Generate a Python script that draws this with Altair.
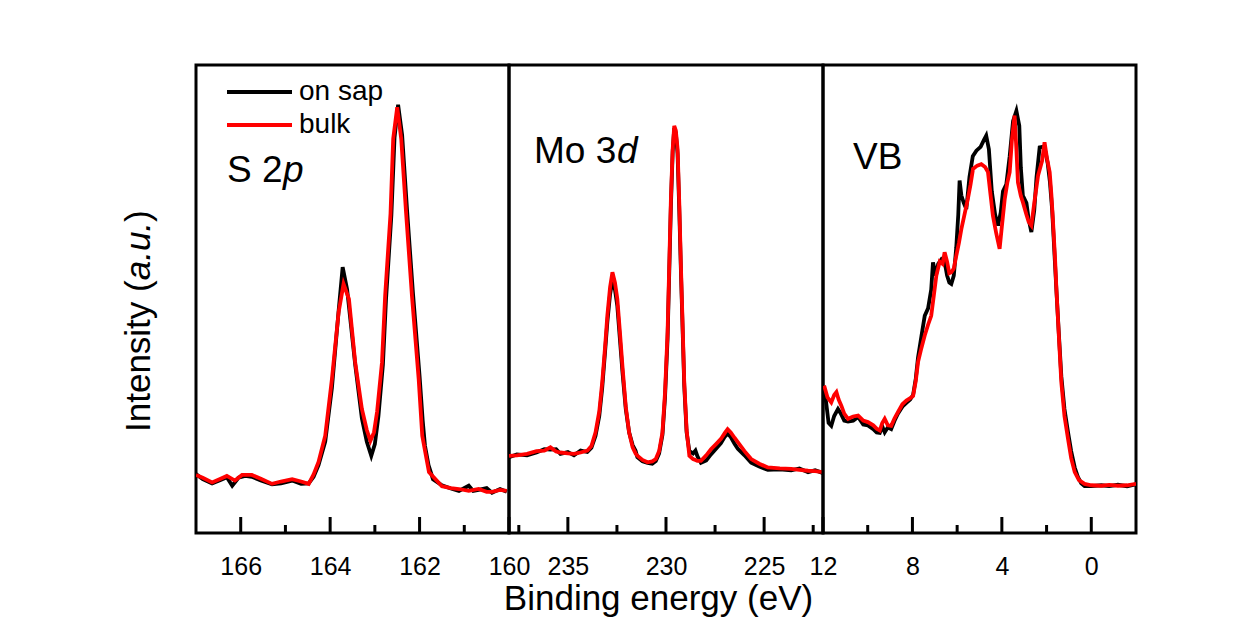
import altair as alt
import pandas as pd

FONT = "Liberation Sans"
H = 468
SAMPLES = ["on sap", "bulk"]
COLORS = ["#000000", "#ff0000"]

# ---------------- S 2p ----------------
s2p_e_bulk = [167.0, 166.85, 166.64, 166.45, 166.31, 166.13, 165.97, 165.75, 165.55, 165.30,
              165.10, 164.85, 164.65, 164.48, 164.37, 164.26, 164.11, 163.96, 163.81, 163.70,
              163.58, 163.44, 163.29, 163.18, 163.10, 163.02, 162.95, 162.84, 162.77, 162.65,
              162.59, 162.50, 162.41, 162.30, 162.17, 162.02, 161.94, 161.79, 161.50, 161.30,
              161.12, 160.90, 160.68, 160.50, 160.38, 160.20, 160.05]
s2p_i_bulk = [12.4, 11.8, 10.8, 11.6, 12.2, 11.2, 12.4, 12.4, 11.6, 10.5,
              11.0, 11.5, 11.0, 10.5, 12.5, 15.2, 20.8, 32.9, 47.2, 53.2,
              50.0, 36.5, 26.5, 22.0, 19.7, 21.5, 25.9, 36.5, 50.7, 68.2,
              84.2, 91.0, 84.2, 68.2, 50.6, 32.9, 20.8, 13.0, 10.0, 9.6,
              9.4, 9.0, 9.4, 8.8, 8.8, 9.2, 9.0]
s2p_e_sap = [167.0, 166.85, 166.64, 166.45, 166.31, 166.19, 166.05, 165.90, 165.75, 165.55,
             165.30, 165.10, 164.85, 164.65, 164.48, 164.37, 164.26, 164.11, 163.96, 163.81,
             163.72, 163.62, 163.44, 163.29, 163.18, 163.08, 163.00, 162.92, 162.82, 162.75,
             162.63, 162.56, 162.48, 162.39, 162.28, 162.15, 162.00, 161.93, 161.88, 161.80,
             161.70, 161.50, 161.30, 161.12, 160.90, 160.80, 160.68, 160.50, 160.38, 160.20,
             160.05]
s2p_i_sap = [12.6, 11.5, 10.6, 11.3, 11.9, 10.1, 11.8, 12.2, 12.0, 11.2,
             10.4, 10.6, 11.2, 10.5, 10.6, 12.0, 14.5, 19.5, 31.0, 47.5,
             56.8, 52.0, 36.0, 24.5, 19.5, 16.5, 19.0, 25.0, 36.0, 50.0,
             68.0, 84.5, 91.5, 85.0, 69.0, 51.5, 33.5, 24.0, 18.7, 14.5,
             11.5, 10.2, 9.5, 9.0, 10.1, 9.0, 9.2, 9.6, 8.6, 9.4,
             8.8]

# ---------------- Mo 3d ----------------
mo_e = [238.0, 237.6, 237.08, 236.6, 236.2, 235.89, 235.6, 235.38, 235.0, 234.69,
        234.35, 234.01, 233.8, 233.59, 233.40, 233.25, 233.10, 232.99, 232.85, 232.73,
        232.60, 232.48, 232.35, 232.22, 232.05, 231.88, 231.70, 231.55, 231.46, 231.20,
        230.94, 230.70, 230.52, 230.35, 230.18, 230.05, 229.92, 229.83, 229.75, 229.66,
        229.58, 229.50, 229.41, 229.32, 229.24, 229.15, 229.07, 228.95, 228.81, 228.62,
        228.50, 228.40, 228.22, 227.95, 227.71, 227.45, 227.20, 227.00, 226.86, 226.70,
        226.50, 226.34, 226.00, 225.66, 225.25, 224.81, 224.20, 223.62, 223.20, 222.76,
        222.40, 222.0]
mo_i_bulk = [16.5, 16.6, 16.9, 17.5, 17.6, 18.3, 17.4, 17.2, 17.0, 16.9,
             17.2, 17.6, 18.6, 21.5, 26.0, 32.2, 40.0, 46.4, 52.5, 55.7,
             53.5, 50.0, 43.0, 35.7, 27.0, 21.5, 18.3, 17.0, 16.5, 15.6,
             15.1, 15.3, 15.8, 17.5, 21.5, 30.0, 42.9, 58.0, 71.4, 82.0,
             87.0, 86.0, 82.1, 70.0, 57.1, 44.0, 32.2, 22.0, 16.5, 15.8,
             15.6, 15.4, 15.4, 16.6, 17.9, 19.0, 20.1, 21.4, 22.2, 21.5,
             20.3, 19.4, 17.5, 15.8, 14.8, 14.0, 13.8, 13.7, 13.5, 13.3,
             13.2, 13.0]
mo_i_sap = [16.2, 16.8, 16.6, 17.2, 17.9, 17.8, 17.9, 16.9, 17.3, 16.6,
            17.6, 17.3, 18.2, 20.8, 25.0, 31.0, 39.0, 45.0, 51.0, 54.0,
            52.0, 48.5, 41.5, 34.5, 26.5, 21.5, 18.8, 17.6, 16.2, 15.3,
            15.0, 14.8, 15.4, 17.0, 21.0, 29.0, 41.5, 56.5, 70.0, 81.5,
            86.5, 85.5, 81.0, 68.5, 56.0, 43.0, 31.5, 21.5, 17.5, 17.0,
            17.6, 16.4, 15.0, 15.5, 16.8, 18.0, 19.2, 20.6, 21.2, 20.5,
            19.0, 18.0, 16.6, 15.0, 14.2, 13.5, 13.6, 13.4, 13.8, 13.0,
            13.4, 12.8]

# ---------------- VB ----------------
vb_e_bulk = [11.95, 11.80, 11.63, 11.50, 11.40, 11.30, 11.18, 11.05, 10.88, 10.65,
             10.43, 10.20, 9.99, 9.75, 9.60, 9.46, 9.35, 9.24, 9.10, 8.95,
             8.80, 8.65, 8.45, 8.27, 8.10, 7.97, 7.85, 7.75, 7.60, 7.45,
             7.30, 7.16, 7.05, 6.93, 6.78, 6.65, 6.56, 6.45, 6.35, 6.26,
             6.15, 6.04, 5.92, 5.81, 5.65, 5.52, 5.40, 5.29, 5.10, 4.92,
             4.75, 4.62, 4.50, 4.40, 4.25, 4.10, 4.00, 3.87, 3.75, 3.65,
             3.55, 3.43, 3.35, 3.28, 3.15, 3.06, 2.90, 2.80, 2.68, 2.55,
             2.38, 2.20, 2.09, 1.98, 1.86, 1.78, 1.71, 1.62, 1.56, 1.45,
             1.34, 1.20, 1.04, 0.90, 0.74, 0.55, 0.30, 0.00, -0.45, -0.80,
             -1.19, -1.60, -2.0]
vb_i_bulk = [31.5, 29.0, 27.9, 29.5, 30.1, 28.5, 27.2, 25.5, 24.4, 24.9,
             25.1, 24.0, 23.7, 23.0, 22.3, 21.9, 23.5, 24.4, 23.0, 22.9,
             24.5, 25.8, 27.5, 28.3, 28.8, 29.3, 32.5, 36.5, 39.5, 42.2,
             44.5, 46.4, 50.5, 55.0, 58.0, 57.5, 60.0, 58.0, 55.5, 55.7,
             56.5, 59.2, 62.0, 65.0, 68.5, 71.4, 74.5, 77.8, 78.5, 78.8,
             78.2, 77.1, 72.0, 67.8, 64.0, 60.7, 65.5, 71.4, 75.0, 77.1,
             84.0, 89.2, 82.0, 74.9, 72.0, 70.7, 68.0, 66.5, 65.7, 70.5,
             76.4, 79.5, 83.5, 80.0, 77.1, 72.0, 66.4, 58.5, 52.1, 42.0,
             32.2, 25.0, 20.1, 16.0, 13.0, 11.3, 10.5, 10.2, 10.1, 10.3,
             10.1, 10.2, 10.5]
vb_e_sap = [11.95, 11.85, 11.75, 11.63, 11.50, 11.33, 11.20, 11.05, 10.88, 10.65,
            10.43, 10.20, 9.99, 9.75, 9.60, 9.46, 9.35, 9.24, 9.10, 8.95,
            8.80, 8.65, 8.45, 8.27, 8.10, 7.97, 7.85, 7.75, 7.60, 7.45,
            7.30, 7.16, 7.08, 6.95, 6.85, 6.70, 6.56, 6.45, 6.35, 6.26,
            6.15, 6.04, 5.95, 5.89, 5.81, 5.70, 5.59, 5.45, 5.30, 5.14,
            4.95, 4.80, 4.70, 4.58, 4.45, 4.30, 4.17, 4.05, 3.95, 3.80,
            3.65, 3.50, 3.35, 3.22, 3.15, 3.06, 2.90, 2.80, 2.68, 2.55,
            2.45, 2.31, 2.18, 2.05, 1.95, 1.85, 1.75, 1.65, 1.55, 1.45,
            1.34, 1.20, 1.04, 0.90, 0.74, 0.60, 0.45, 0.30, 0.00, -0.45,
            -0.80, -1.19, -1.60, -2.0]
vb_i_sap = [31.0, 27.5, 23.5, 22.9, 25.0, 26.5, 25.5, 24.0, 23.8, 24.0,
            24.8, 23.2, 23.0, 22.2, 21.5, 21.4, 22.8, 21.5, 22.6, 22.2,
            24.0, 25.5, 27.0, 27.8, 28.5, 29.5, 33.0, 37.5, 42.0, 46.4,
            48.0, 52.0, 57.8, 55.0, 57.5, 58.5, 58.0, 55.0, 53.5, 53.2,
            55.0, 61.0, 68.0, 75.3, 72.1, 70.5, 69.2, 76.0, 80.5, 81.7,
            82.5, 84.0, 84.9, 82.0, 73.0, 68.0, 65.7, 68.5, 73.0, 74.5,
            80.5, 88.0, 90.2, 87.0, 78.0, 72.1, 70.5, 67.0, 64.3, 69.0,
            76.0, 82.4, 82.5, 81.5, 79.0, 75.0, 69.0, 60.0, 51.0, 42.5,
            33.5, 26.5, 21.5, 17.5, 14.0, 12.0, 10.6, 10.0, 10.0, 10.2,
            10.0, 10.3, 10.0, 10.4]

# ---------------- axes ----------------
s2p_domain = [160, 167]
s2p_major = [166, 164, 162, 160]
s2p_minor = [165, 163, 161]
mo_domain = [222, 238]
mo_major = [235, 230, 225]
mo_minor = [237.5, 232.5, 227.5, 222.5]
vb_domain = [-2, 12]
vb_major = [12, 8, 4, 0]
vb_minor = [10, 6, 2]

x_title = "Binding energy (eV)"
y_title_parts = ["Intensity (", "a.u.", ")"]


def one(text):
    return pd.DataFrame({"t": [text]})


def text_mark(text, x, y, size, italic=False, angle=0, align="left", baseline="alphabetic"):
    kw = dict(font=FONT, fontSize=size, color="black", align=align, baseline=baseline)
    if italic:
        kw["fontStyle"] = "italic"
    if angle:
        kw["angle"] = angle
    return alt.Chart(one(text)).mark_text(**kw).encode(
        text="t:N", x=alt.value(x), y=alt.value(y))


def panel(width, domain, major, minor, e_sap, i_sap, e_bulk, i_bulk, extras):
    xs = alt.Scale(domain=domain, reverse=True, nice=False, zero=False)
    ys = alt.Scale(domain=[0, 100], nice=False, zero=False)
    axis = alt.Axis(values=major, ticks=False, tickSize=0, domain=False, grid=False,
                    labelFontSize=25, labelFont=FONT, labelColor="black",
                    labelPadding=21, labelFlush=False, labelOverlap=False, title=None)
    d_sap = pd.DataFrame({"energy": e_sap, "intensity": i_sap})
    d_bulk = pd.DataFrame({"energy": e_bulk, "intensity": i_bulk})
    l_sap = alt.Chart(d_sap).mark_line(color=COLORS[0], strokeWidth=3.8, clip=True).encode(
        x=alt.X("energy:Q", scale=xs, axis=axis),
        y=alt.Y("intensity:Q", scale=ys, axis=None),
        order=alt.Order("energy:Q", sort="descending"))
    l_bulk = alt.Chart(d_bulk).mark_line(color=COLORS[1], strokeWidth=3.8, clip=True).encode(
        x=alt.X("energy:Q", scale=xs, axis=axis),
        y=alt.Y("intensity:Q", scale=ys, axis=None),
        order=alt.Order("energy:Q", sort="descending"))
    t_major = alt.Chart(pd.DataFrame({"v": major})).mark_rule(color="black", strokeWidth=3).encode(
        x=alt.X("v:Q", scale=xs, axis=axis), y=alt.value(H), y2=alt.value(H - 16))
    t_minor = alt.Chart(pd.DataFrame({"v": minor})).mark_rule(color="black", strokeWidth=3).encode(
        x=alt.X("v:Q", scale=xs, axis=axis), y=alt.value(H), y2=alt.value(H - 8))
    return alt.layer(l_sap, l_bulk, t_major, t_minor, *extras).properties(width=width, height=H)


# legend (panel 1)
leg_df = pd.DataFrame({"s": SAMPLES, "c": COLORS, "yy": [27, 60]})
legend_lines = alt.Chart(leg_df).mark_rule(strokeWidth=4).encode(
    x=alt.value(31), x2=alt.value(96), y=alt.Y("yy:Q", scale=None),
    color=alt.Color("c:N", scale=None))
legend_text = alt.Chart(leg_df).mark_text(font=FONT, fontSize=28, align="left", baseline="middle",
                                          color="black").encode(
    x=alt.value(103), y=alt.Y("yy:Q", scale=None), text="s:N")

# y title (three parts, middle italic)
ytitle = [
    text_mark(y_title_parts[0], -46, 367, 35, angle=270),
    text_mark(y_title_parts[1], -46, 215.3, 35, italic=True, angle=270),
    text_mark(y_title_parts[2], -46, 156.9, 35, angle=270),
]

p1_extras = [legend_lines, legend_text,
             text_mark("S 2", 31, 117, 37), text_mark("p", 87, 117, 37, italic=True)] + ytitle
p2_extras = [text_mark("Mo 3", 25, 98, 37), text_mark("d", 108, 98, 37, italic=True),
             text_mark(x_title, 149.5, 545, 35, align="center")]
p3_extras = [text_mark("VB", 30, 104, 37)]

c1 = panel(313, s2p_domain, s2p_major, s2p_minor, s2p_e_sap, s2p_i_sap, s2p_e_bulk, s2p_i_bulk, p1_extras)
c2 = panel(314, mo_domain, mo_major, mo_minor, mo_e, mo_i_sap, mo_e, mo_i_bulk, p2_extras)
c3 = panel(313, vb_domain, vb_major, vb_minor, vb_e_sap, vb_i_sap, vb_e_bulk, vb_i_bulk, p3_extras)

chart = alt.hconcat(c1, c2, c3, spacing=0, bounds="flush").resolve_scale(
    x="independent", y="independent"
).properties(
    padding={"left": 112, "top": 55, "right": 5, "bottom": 2},
    background="white",
).configure_view(stroke="black", strokeWidth=3)

chart.save("out.html", embed_options={"renderer": "svg", "actions": False})
